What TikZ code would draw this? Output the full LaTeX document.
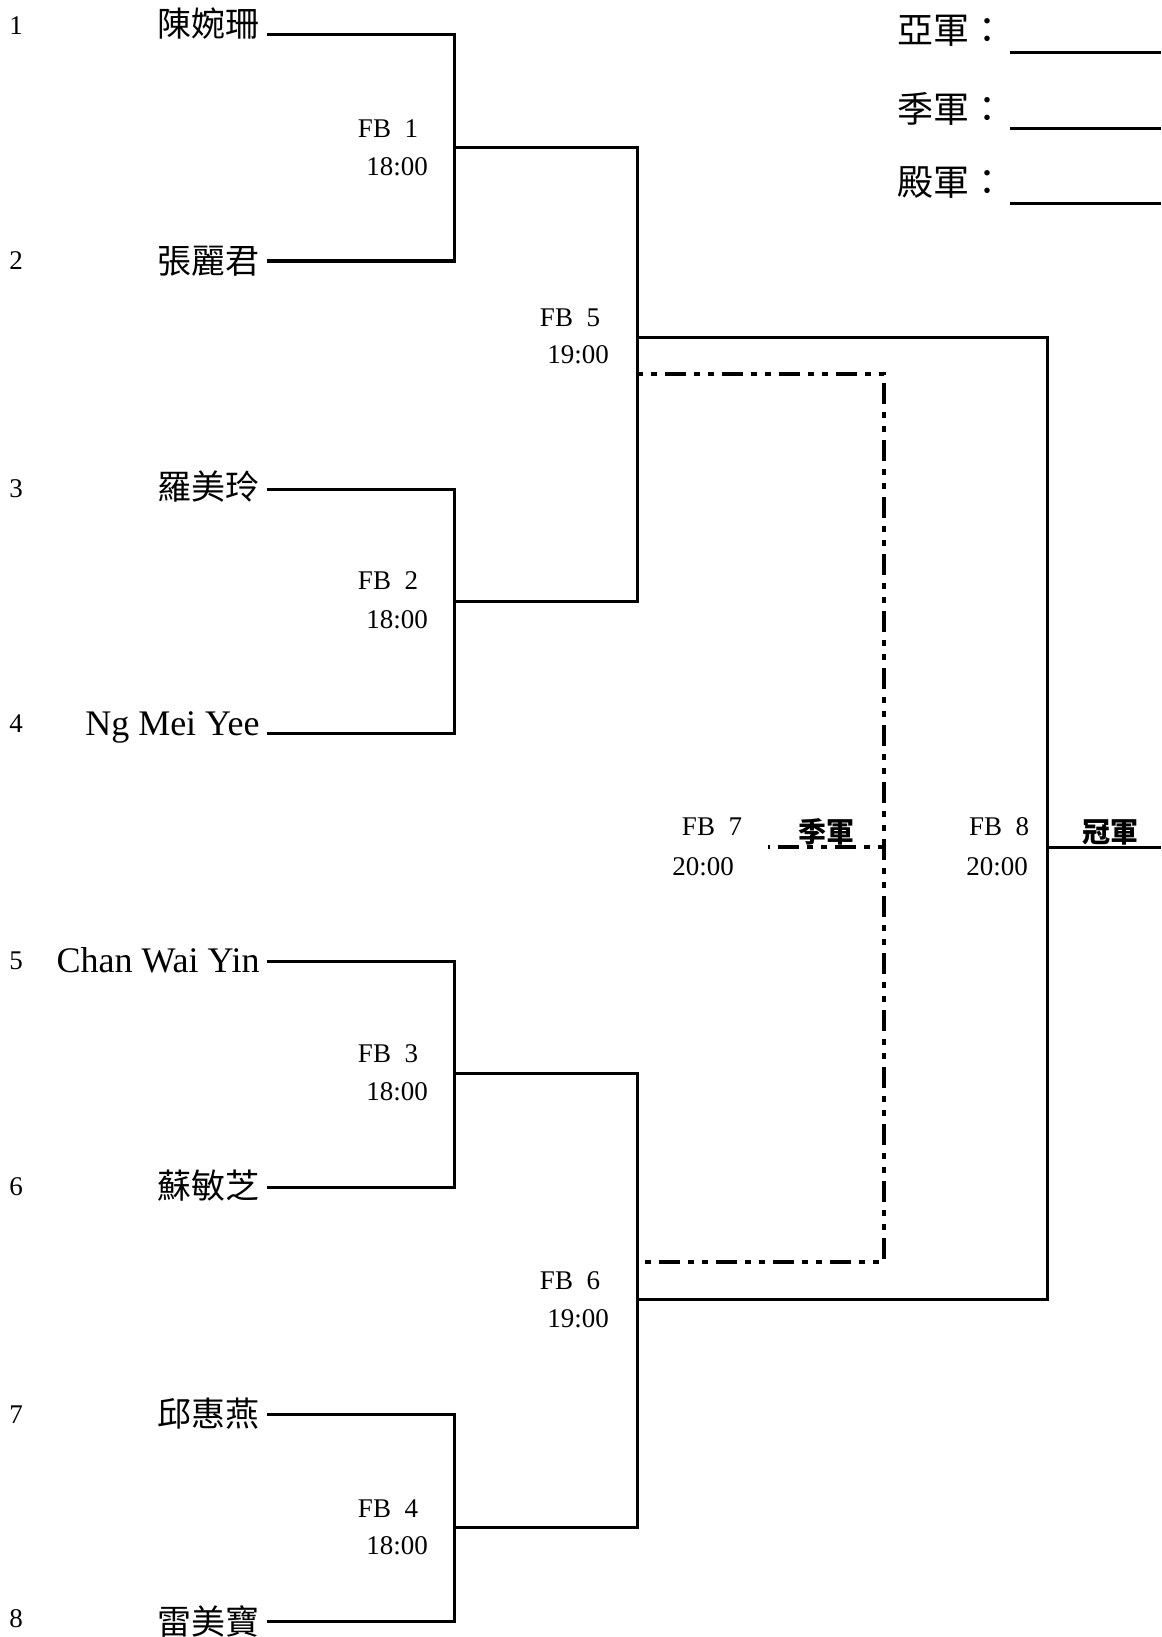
\documentclass[tikz,border=0pt]{standalone}
\usepackage{fontspec}
\setmainfont{Liberation Serif}
\newfontfamily\cjk{Noto Sans CJK TC}
\usetikzlibrary{positioning}

\begin{document}
\begin{tikzpicture}[x=0.5pt,y=-0.5pt,
  seednum/.style={inner sep=0pt,font=\fontsize{13.5}{16}\selectfont},
  player/.style={inner sep=0pt,font=\fontsize{18}{20}\selectfont},
  cjkname/.style={inner sep=0pt,font=\fontsize{17}{20}\selectfont\cjk},
  tag/.style={inner sep=0pt,font=\fontsize{13.5}{16}\selectfont},
  prize/.style={inner sep=0pt,font=\fontsize{14}{16}\selectfont\cjk\bfseries},
  podium/.style={inner sep=0pt,anchor=west,font=\fontsize{18}{20}\selectfont\cjk},
  bracket/.style={line width=1.5pt},
  loser/.style={line width=2.25pt,dash pattern=on 3pt off 4pt on 3pt off 4pt on 10.5pt off 4pt}]
\useasboundingbox (0,0) rectangle (1161,1637);

% seeds and players
\node[seednum] (n1) at (16,26) {1};
\node[seednum] (n2) at (16,261) {2};
\node[seednum] (n3) at (16,489) {3};
\node[seednum] (n4) at (16,724) {4};
\node[seednum] (n5) at (16,961) {5};
\node[seednum] (n6) at (16,1187) {6};
\node[seednum] (n7) at (16,1415) {7};
\node[seednum] (n8) at (16,1619) {8};

\node[cjkname,anchor=east] (p1) at (260,24) {陳婉珊};
\node[cjkname,anchor=east] (p2) at (260,261) {張麗君};
\node[cjkname,anchor=east] (p3) at (260,487) {羅美玲};
\node[player,anchor=base east] (p4) at (260,735) {Ng Mei Yee};
\node[player,anchor=base east] (p5) at (260,972) {Chan Wai Yin};
\node[cjkname,anchor=east] (p6) at (260,1186) {蘇敏芝};
\node[cjkname,anchor=east] (p7) at (260,1414) {邱惠燕};
\node[cjkname,anchor=east] (p8) at (260,1621) {雷美寶};

% line ends
\coordinate (e1) at (267,35);
\coordinate (e2) at (267,261);
\coordinate (e3) at (267,489);
\coordinate (e4) at (267,733);
\coordinate (e5) at (267,961);
\coordinate (e6) at (267,1187);
\coordinate (e7) at (267,1414);
\coordinate (e8) at (267,1621);

% matches
\coordinate (fb1) at (454,148);
\coordinate (fb2) at (454,601);
\coordinate (fb3) at (454,1073);
\coordinate (fb4) at (454,1527);
\coordinate (fb5) at (637,337);
\coordinate (fb6) at (637,1299);
\coordinate (fb7) at (884,847);
\coordinate (fb8) at (1047,847);
\coordinate (lose5) at (637,374);
\coordinate (lose6) at (637,1262);
\coordinate (third) at (768,847);
\coordinate (champ) at (1161,847);

\draw[bracket] (e1) -| (fb1) |- (e2);
\draw[bracket] (e3) -| (fb2) |- (e4);
\draw[bracket] (e5) -| (fb3) |- (e6);
\draw[bracket] (e7) -| (fb4) |- (e8);
\draw[bracket] (fb1) -| (fb5) |- (fb2);
\draw[bracket] (fb3) -| (fb6) |- (fb4);
\draw[bracket] (fb5) -| (fb8) |- (fb6);
\draw[bracket] (fb8) -- (champ);

\draw[loser] (lose5) -| (fb7) |- (lose6);
\draw[loser] (fb7) -- (third);

% match labels
\node[tag] (t1) at (388,129) {FB\ \ 1};
\node[tag] (h1) at (397,167) {18:00};
\node[tag] (t2) at (388,581) {FB\ \ 2};
\node[tag] (h2) at (397,620) {18:00};
\node[tag] (t3) at (388,1054) {FB\ \ 3};
\node[tag] (h3) at (397,1092) {18:00};
\node[tag] (t4) at (388,1509) {FB\ \ 4};
\node[tag] (h4) at (397,1546) {18:00};
\node[tag] (t5) at (570,318) {FB\ \ 5};
\node[tag] (h5) at (578,355) {19:00};
\node[tag] (t6) at (570,1281) {FB\ \ 6};
\node[tag] (h6) at (578,1319) {19:00};
\node[tag] (t7) at (712,827) {FB\ \ 7};
\node[tag] (h7) at (703,867) {20:00};
\node[tag] (t8) at (999,827) {FB\ \ 8};
\node[tag] (h8) at (997,867) {20:00};

\node[prize] (q7) at (826,832) {季軍};
\node[prize] (q8) at (1110,832) {冠軍};

% results
\node[podium] (r2) at (897,31) {亞軍：};
\node[podium] (r3) at (897,109) {季軍：};
\node[podium] (r4) at (897,183) {殿軍：};
\coordinate (a2) at (1010,53);
\coordinate (b2) at (1161,53);
\coordinate (a3) at (1010,129);
\coordinate (b3) at (1161,129);
\coordinate (a4) at (1010,204);
\coordinate (b4) at (1161,204);
\draw[bracket] (a2) -- (b2);
\draw[bracket] (a3) -- (b3);
\draw[bracket] (a4) -- (b4);
\end{tikzpicture}
\end{document}
